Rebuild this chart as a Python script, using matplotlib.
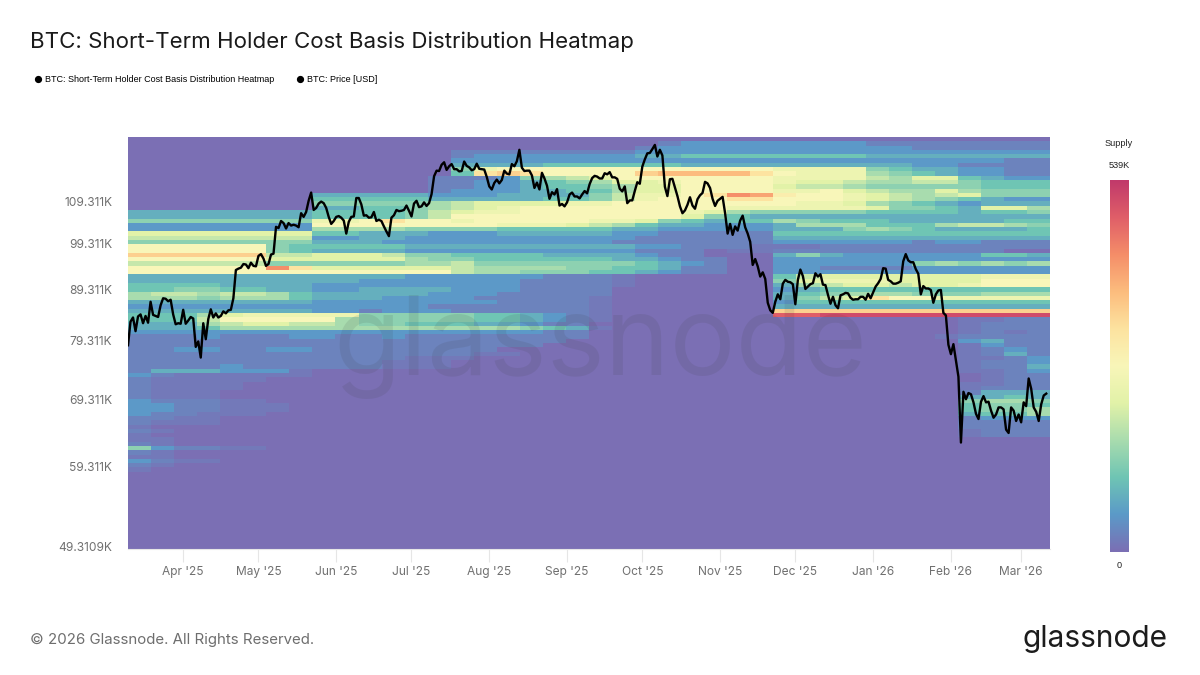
import numpy as np
import pandas as pd
import matplotlib
matplotlib.use("Agg")
import matplotlib.pyplot as plt
import matplotlib.dates as mdates
from matplotlib.colors import LinearSegmentedColormap

plt.rcParams['font.family'] = ['Inter', 'DejaVu Sans']

# BTC daily close, USD thousands, from 10 Mar 2025
price_start = "2025-03-10"
price = [
    78.5, 82.9, 83.7, 81.1, 83.9, 84.3, 82.6, 84.0, 82.7, 86.8, 84.2, 84.0, 83.8, 86.1, 87.5, 87.4, 86.9, 87.2, 84.3, 82.4, 82.6, 82.5,
    85.2, 82.5, 83.1, 83.8, 83.5, 78.2, 79.2, 76.3, 82.6, 79.6, 83.4, 85.3, 83.7, 84.5, 83.7, 84.0, 84.9, 84.5, 85.1, 85.2, 87.5, 93.4, 93.7, 93.9, 94.7, 94.6, 93.8, 95.0, 94.3, 94.2,
    96.5, 96.9, 95.9, 94.3, 94.7, 96.8, 97.0, 103.2, 102.9, 104.6, 104.1, 102.8, 104.1, 103.5, 103.7, 103.5, 103.1, 106.5, 105.6, 106.8, 109.6, 111.7, 107.3, 107.8, 108.9, 109.4, 109.0, 107.8, 105.6, 103.9, 104.6,
    105.6, 105.8, 105.4, 104.7, 101.6, 104.4, 105.6, 105.7, 110.3, 110.3, 108.7, 105.9, 106.0, 105.4, 105.5, 106.8, 104.6, 104.9, 104.6, 103.3, 102.1, 101.0, 105.4, 106.0, 107.3, 107.0, 107.1, 107.3, 108.4, 107.1,
    105.7, 108.9, 109.6, 108.0, 108.2, 109.2, 108.3, 109.0, 111.3, 116.0, 117.5, 117.4, 119.1, 119.8, 117.7, 118.7, 119.3, 117.9, 117.9, 117.3, 117.4, 120.0, 118.8, 118.4, 117.6, 117.9, 119.4, 118.0, 117.9, 117.8, 115.8,
    113.3, 112.5, 114.2, 115.1, 114.1, 115.0, 117.5, 116.7, 116.5, 119.3, 118.7, 120.1, 123.3, 118.3, 117.4, 117.5, 117.5, 116.2, 112.9, 114.3, 112.5, 116.9, 115.4, 113.5, 110.1, 111.8, 111.2, 112.6, 108.4, 108.8, 108.2,
    109.2, 111.2, 111.7, 110.7, 110.7, 110.2, 111.2, 112.1, 111.5, 113.9, 115.5, 116.1, 115.9, 115.4, 115.4, 116.8, 116.5, 117.1, 115.7, 115.7, 115.3, 112.7, 112.0, 113.3, 109.0, 109.7, 109.7, 112.1, 114.4, 114.0,
    118.6, 120.6, 122.3, 122.4, 123.5, 124.7, 121.4, 123.3, 121.7, 113.2, 110.8, 115.2, 115.3, 113.0, 110.8, 108.2, 106.5, 107.2, 108.6, 110.5, 108.4, 107.6, 110.0, 111.0, 111.6, 114.5, 114.1, 112.9, 110.1, 108.3, 109.6,
    110.1, 110.6, 106.5, 101.6, 103.9, 101.3, 103.3, 102.3, 104.7, 105.9, 103.1, 101.6, 99.7, 94.5, 95.8, 94.2, 92.0, 92.9, 91.5, 86.6, 85.1, 84.6, 86.8, 88.3, 87.3, 90.5, 91.3, 90.9, 90.8, 90.4,
    86.3, 91.3, 93.5, 92.1, 89.4, 89.9, 90.4, 90.6, 92.7, 92.0, 92.5, 90.3, 90.2, 88.2, 86.4, 87.8, 86.1, 85.5, 88.1, 88.3, 88.6, 88.5, 87.6, 87.2, 87.3, 87.3, 87.8, 87.8, 87.2, 88.4, 87.5,
    88.7, 89.9, 90.6, 91.5, 93.8, 93.7, 91.3, 91.0, 90.5, 90.5, 90.7, 91.0, 95.3, 96.9, 95.5, 95.1, 95.1, 93.6, 92.6, 88.3, 90.0, 89.5, 89.5, 89.2, 86.6, 88.3, 89.1, 89.2, 84.6, 84.1, 78.6,
    76.9, 78.7, 75.8, 73.0, 62.7, 70.5, 69.3, 70.3, 70.1, 68.8, 67.0, 66.2, 68.9, 69.8, 68.8, 68.9, 67.5, 66.4, 66.9, 68.0, 68.0, 67.7, 64.6, 64.1, 68.0, 67.5, 65.9, 66.9,
    65.7, 68.8, 68.2, 72.7, 71.0, 68.0, 67.3, 65.9, 68.5, 69.9, 70.2,
]

# supply per cost-basis bucket (top row = highest price), one char per period
# base-36 level, 0 = none, k = 539K, "." = half of level 1
heat_rows = [
    "0000000000 0000000000 0000000000 0000000000",
    "0000000000 0000000000 0001222222 2211111111",
    "0000000000 0000000000 0012222222 2222111111",
    "0000000000 0000111111 1122222222 2222222222",
    "0000000000 0000122222 2233444444 4433333333",
    "0000000000 0000222222 2222222222 2222222211",
    "0000000000 0000333344 4444333333 3333221111",
    "0000000000 000059aaaa aaaaaaaa99 9954332211",
    "0000000000 00004cdcaa aadeeeeca9 9965432211",
    "0000000000 0001112567 8aaaaaaa99 9976884322",
    "0000000000 0001122345 6889aaaa98 8766775444",
    "0000000000 0001122344 5688aaaa87 7655555444",
    "0000000000 0001222334 4688aaaa99 a876686555",
    "0000000033 3332223333 5799acgfba a987678555",
    "0000000044 4443333344 579aaaccaa a987654322",
    "0000000055 5556788889 9aaaaaaaa9 9865432333",
    "0000000033 4456789aaa aaaaaa9999 9985543886",
    "3333333344 4457899aaa aaaa986555 5544443445",
    "3333333344 4457aaaaaa aaaa854333 3333333333",
    "5555555599 acaa9aaaaa 9985434465 4443333344",
    "22222222aa aaaaaa9998 7643322236 6644467765",
    "2222222266 6655554444 4332222233 3565433334",
    "8888888844 3332223333 3221111144 4444444444",
    "7777777722 3322222222 2211111133 3333333333",
    "5555555533 3222222222 2111111122 2222122111",
    "aaaaaa5444 4433333333 3322111... 1111111111",
    "aaaaaa5433 3322222222 221110..11 1111111100",
    "dddddd7788 8755444433 3321100035 3222222443",
    "aaaaaa8888 8865544444 4332110022 2222222222",
    "7777775555 5566755555 5543210022 2222565656",
    "aaaaaagc88 8888766665 5443110022 1111222222",
    "aaaaaaaaaa aaaa766555 4432110022 2222222222",
    "3333333333 3322222211 1.00000047 8888888999",
    "3333333333 2222222111 1.00000058 9998888aaa",
    "4444333322 2222222111 1.00000036 7887889aaa",
    "4455443322 3333222111 1000000023 4444444444",
    "6776776433 3332221111 1000000034 5666555666",
    "6665666433 3222211111 .000000035 78caa99999",
    "3333333322 2222221111 .000000024 4444444444",
    "2222222222 2221111111 .000000033 3333333333",
    "3333333322 1222111111 .0000000dd dddddddddd",
    "4446899999 5555544321 .0000000ii jjjjjjjjjj",
    "4447aaaaa6 5555544321 .000000000 000000..11",
    "3336788776 5544433211 0000000000 000000.111",
    "3334666666 6666666543 .000000000 000000.111",
    "2222222222 2222222211 0000000000 000000.1.1",
    "1112111221 1211111111 0000000000 00000.1111",
    "1111111111 1111111110 0000000000 0000002311",
    "1111111111 1111111100 0000000000 000000.211",
    "1122112211 1111110000 0000000000 000000.121",
    "1111111111 11111..000 0000000000 000000.131",
    "1111111111 11...00000 0000000000 000000..12",
    "1111111111 1...000000 0000000000 000000.112",
    "1111211111 1...000000 0000000000 000000.113",
    "1333222.00 0000000000 0000000000 000000..12",
    "21......00 0000000000 0000000000 0000000.11",
    "1.....0000 0000000000 0000000000 0000000.11",
    "1....00000 0000000000 0000000000 000000..11",
    "1....00000 0000000000 0000000000 000000.111",
    "1...000000 0000000000 0000000000 0000001333",
    "1...000000 0000000000 0000000000 0000003343",
    "2111..0000 0000000000 0000000000 0000005665",
    "2211...000 0000000000 0000000000 0000004554",
    "2211...000 0000000000 0000000000 0000004556",
    "211...0000 0000000000 0000000000 0000003446",
    "11..000000 0000000000 0000000000 0000001222",
    "1...000000 0000000000 0000000000 0000001111",
    ".000000000 0000000000 0000000000 0000001111",
    "1.00000000 0000000000 0000000000 000000.111",
    ".000000000 0000000000 0000000000 000000.111",
    "..00000000 0000000000 0000000000 0000000000",
    "1.00000000 0000000000 0000000000 0000000000",
    "5211..0000 0000000000 0000000000 0000000000",
    "1.00000000 0000000000 0000000000 0000000000",
    "..00000000 0000000000 0000000000 0000000000",
    "21..000000 0000000000 0000000000 0000000000",
    "1.00000000 0000000000 0000000000 0000000000",
    ".000000000 0000000000 0000000000 0000000000",
]

ytick_vals = [49.3109, 59.311, 69.311, 79.311, 89.311, 99.311, 109.311]
ytick_labels = ["49.3109K", "59.311K", "69.311K", "79.311K", "89.311K", "99.311K", "109.311K"]
xtick_dates = ["2025-04-01", "2025-05-01", "2025-06-01", "2025-07-01", "2025-08-01", "2025-09-01",
               "2025-10-01", "2025-11-01", "2025-12-01", "2026-01-01", "2026-02-01", "2026-03-01"]
xtick_labels = ["Apr '25", "May '25", "Jun '25", "Jul '25", "Aug '25", "Sep '25",
                "Oct '25", "Nov '25", "Dec '25", "Jan '26", "Feb '26", "Mar '26"]
supply_max = 539

colors = ["#7b6fb4", "#5b9ac8", "#6fc5b4", "#a9dcae", "#e2f2a8", "#f8f6b9",
          "#fde3a0", "#fcbd7e", "#f58e69", "#e05f68", "#c13a6b"]
cmap = LinearSegmentedColormap.from_list("heat", colors)

W, H = 1200, 675
fig = plt.figure(figsize=(12, 6.75), dpi=100)


def px_axes(x0, y0, x1, y1):
    return fig.add_axes([x0 / W, 1 - y1 / H, (x1 - x0) / W, (y1 - y0) / H])


def level(c):
    return 0.5 if c == "." else int(c, 36)


ax = px_axes(128, 137, 1050, 549)
ymin, ymax = 49.03, 127.0
n_buckets = 96
n_periods = 40
xmin = mdates.date2num(pd.Timestamp("2025-03-10"))
xmax = mdates.date2num(pd.Timestamp("2026-03-12 12:00"))

heat = np.zeros((n_buckets, n_periods))
for i, row in enumerate(heat_rows):
    row = row.replace(" ", "").ljust(n_periods, "0")[:n_periods]
    heat[i] = [level(c) / 20 * supply_max for c in row]

x_edges = np.linspace(xmin, xmax, n_periods + 1)
y_edges = np.geomspace(ymax, ymin, n_buckets + 1)
ax.pcolormesh(x_edges, y_edges, heat, cmap=cmap, vmin=0, vmax=supply_max, shading="flat", rasterized=True)

ax.text(0.512, 0.49, "glassnode", transform=ax.transAxes, ha="center", va="center",
        fontsize=79, family=["Inter", "DejaVu Sans"], color="#3a3a3a", alpha=0.11, zorder=3)

dates = pd.date_range(price_start, periods=len(price), freq="D")
ax.plot(dates, price, color="black", lw=1.7, zorder=4, solid_joinstyle="round")

ax.set_yscale("log")
ax.set_ylim(ymin, ymax)
ax.set_xlim(xmin, xmax)
ax.minorticks_off()
ax.set_yticks(ytick_vals)
ax.set_yticklabels(ytick_labels)
ax.set_xticks([mdates.date2num(pd.Timestamp(d)) for d in xtick_dates])
ax.set_xticklabels(xtick_labels)
ax.tick_params(axis="y", length=0, pad=11.5, labelsize=8.6, labelcolor="#707070")
ax.tick_params(axis="x", length=9, width=0.8, color="#e6e6e6", pad=3, labelsize=8.6, labelcolor="#707070")
for name, sp in ax.spines.items():
    sp.set_visible(name == "bottom")
ax.spines["bottom"].set_color("#e6e6e6")

# colour bar
cax = px_axes(1110, 180, 1129, 552)
grad = np.linspace(1, 0, 256).reshape(-1, 1)
cax.imshow(grad, aspect="auto", cmap=cmap, vmin=0, vmax=1)
cax.axis("off")

small = ["Liberation Sans", "DejaVu Sans"]
fig.text(1119 / W, 1 - 143 / H, "Supply", ha="center", va="center", fontsize=6.6, family=small, color="#222222")
fig.text(1119 / W, 1 - 165 / H, "539K", ha="center", va="center", fontsize=6.6, family=small, color="#222222")
fig.text(1119 / W, 1 - 566 / H, "0", ha="center", va="center", fontsize=6.6, family=small, color="#222222")

# title, legend, footer
fig.text(30 / W, 1 - 42 / H, "BTC: Short-Term Holder Cost Basis Distribution Heatmap",
         ha="left", va="center", fontsize=16.05, color="#1a1a1a")

legend_ax = fig.add_axes([0, 0, 1, 1], facecolor="none")
legend_ax.set_xlim(0, W)
legend_ax.set_ylim(H, 0)
legend_ax.axis("off")
legend_ax.plot([38, 300], [79, 79], ls="none", marker="o", ms=4.2, color="black")
fig.text(45 / W, 1 - 79 / H, "BTC: Short-Term Holder Cost Basis Distribution Heatmap",
         ha="left", va="center", fontsize=6.45, family=small, color="black")
fig.text(307 / W, 1 - 79 / H, "BTC: Price [USD]", ha="left", va="center", fontsize=6.45, family=small, color="black")

fig.text(30 / W, 1 - 640 / H, "© 2026 Glassnode. All Rights Reserved.",
         ha="left", va="center", fontsize=10.8, color="#6e6e6e")
fig.text(1168 / W, 1 - 639 / H, "glassnode", ha="right", va="center", fontsize=21.5,
         family=["Inter", "DejaVu Sans"], color="#1c1c1c")

fig.savefig("out.png", dpi=100)
